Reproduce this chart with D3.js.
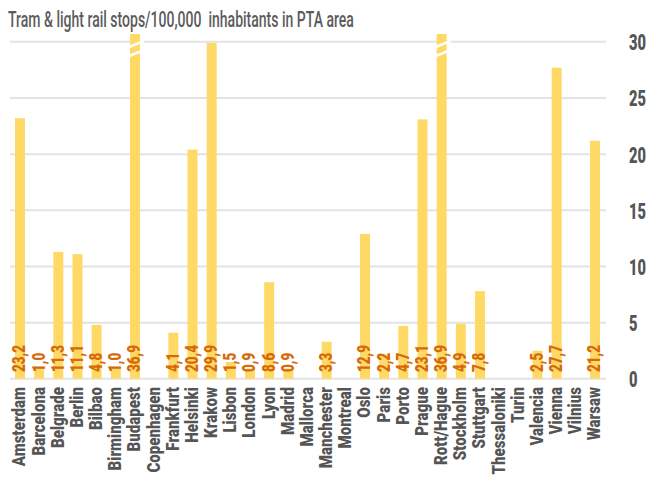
<!DOCTYPE html>
<html>
<head>
<meta charset="utf-8">
<script src="https://cdn.jsdelivr.net/npm/d3@7"></script>
<style>
  html, body { margin: 0; padding: 0; background: #fff; }
  svg { display: block; }
  text { font-family: Roboto, "Liberation Sans", sans-serif; }
</style>
</head>
<body>
<svg id="chart" width="651" height="480"></svg>
<script>
// Tram & light rail stops per 100,000 inhabitants, by city (null = no system)
const cities = ["Amsterdam", "Barcelona", "Belgrade", "Berlin", "Bilbao", "Birmingham", "Budapest",
  "Copenhagen", "Frankfurt", "Helsinki", "Krakow", "Lisbon", "London", "Lyon", "Madrid", "Mallorca",
  "Manchester", "Montreal", "Oslo", "Paris", "Porto", "Prague", "Rott/Hague", "Stockholm", "Stuttgart",
  "Thessaloniki", "Turin", "Valencia", "Vienna", "Vilnius", "Warsaw"];
const stops = [23.2, 1.0, 11.3, 11.1, 4.8, 1.0, 36.9,
  null, 4.1, 20.4, 29.9, 1.5, 0.9, 8.6, 0.9, null,
  3.3, null, 12.9, 2.2, 4.7, 23.1, 36.9, 4.9, 7.8,
  null, null, 2.5, 27.7, null, 21.2];
const yTicks = [0, 5, 10, 15, 20, 25, 30];
const title = "Tram & light rail stops/100,000  inhabitants in PTA area";

const rows = cities.map((c, i) => ({ city: c, v: stops[i] }));
const fmt = v => d3.format(".1f")(v).replace(".", ",");

const svg = d3.select("#chart");
const plotLeft = 10.4, plotRight = 604.6, plotTop = 34, plotBottom = 378.8;
const yMax = 30.7; // axis stops just above 30; taller bars are cut with a break mark

const x = d3.scaleBand().domain(cities).range([plotLeft, plotRight]).paddingInner(0.48).paddingOuter(0.24);
const y = d3.scaleLinear().domain([0, yMax]).range([plotBottom, plotTop]).clamp(true);

// Horizontal squeeze factor that makes a sample string in the given font span a width,
// giving a condensed face from the regular one.
function squeeze(sample, size, weight, width) {
  const t = svg.append("text").attr("font-size", size).attr("font-weight", weight)
    .style("white-space", "pre").text(sample);
  const w = t.node().getBBox().width;
  t.remove();
  return width / w;
}

// title
const sTitle = squeeze(title, 22, 500, 346);
svg.append("text")
  .attr("transform", `translate(8,27) scale(${sTitle},1)`)
  .attr("font-size", 22).attr("font-weight", 500).attr("fill", "#5c5c5c")
  .style("white-space", "pre")
  .text(title);

// gridlines
svg.append("g").selectAll("line").data(yTicks).join("line")
  .attr("x1", 10).attr("x2", 606)
  .attr("y1", d => y(d)).attr("y2", d => y(d))
  .attr("stroke", "#e3e3e3").attr("stroke-width", 2);

// right axis labels
const sTick = squeeze("30", 22, 900, 17);
const yAxis = d3.axisRight(y).tickValues(yTicks).tickSize(0).tickPadding(0);
const ga = svg.append("g").attr("transform", "translate(629,0)").call(yAxis);
ga.select(".domain").remove();
ga.selectAll("text")
  .attr("font-family", null).attr("font-size", 22).attr("font-weight", 900).attr("fill", "#555")
  .attr("dy", "0.36em")
  .attr("transform", `scale(${sTick},1)`);

// bars
const withVal = rows.filter(d => d.v != null);
svg.append("g").selectAll("rect").data(withVal).join("rect")
  .attr("x", d => x(d.city)).attr("width", x.bandwidth())
  .attr("y", d => y(d.v)).attr("height", d => plotBottom - y(d.v))
  .attr("fill", "#FFD966");

// break marks on bars exceeding the axis
const broken = withVal.filter(d => d.v > yMax);
const gb = svg.append("g");
broken.forEach(d => {
  const x0 = x(d.city) - 1, x1 = x(d.city) + x.bandwidth() + 4;
  [45, 54].forEach(yy => {
    gb.append("line")
      .attr("x1", x0).attr("y1", yy + 2)
      .attr("x2", x1).attr("y2", yy - 4)
      .attr("stroke", "#fff").attr("stroke-width", 2.5);
  });
});

// value labels
const sVal = squeeze("23,2", 19, 900, 27);
svg.append("g").selectAll("text").data(withVal).join("text")
  .attr("transform", d => `translate(${x(d.city) + x.bandwidth() + 0.5},372) rotate(-90) scale(${sVal},1)`)
  .attr("font-size", 19).attr("font-weight", 900).attr("fill", "#D66A0A")
  .text(d => fmt(d.v));

// category labels
const sCity = squeeze("Amsterdam", 19, 900, 80);
svg.append("g").selectAll("text").data(rows).join("text")
  .attr("transform", d => `translate(${x(d.city) + x.bandwidth() + 0.5},387) rotate(-90) scale(${sCity},1)`)
  .attr("text-anchor", "end")
  .attr("font-size", 19).attr("font-weight", 900).attr("fill", "#555")
  .text(d => d.city);
</script>
</body>
</html>
